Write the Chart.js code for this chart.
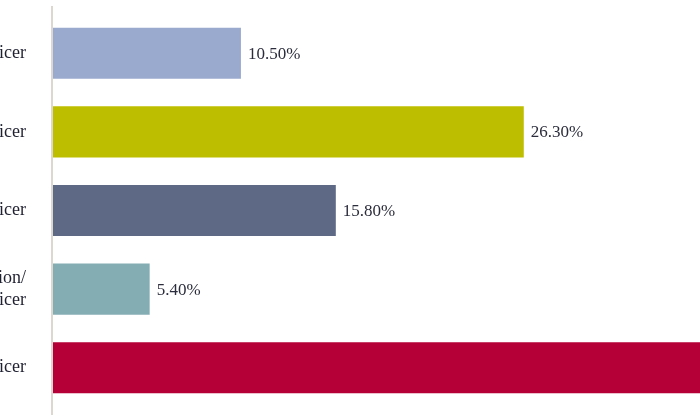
<!DOCTYPE html>
<html>
<head>
<meta charset="utf-8">
<script src="https://cdn.jsdelivr.net/npm/chart.js@4/dist/chart.umd.min.js"></script>
<style>
  html, body { margin: 0; padding: 0; background: #fff; overflow: hidden; }
  body { width: 700px; height: 420px; position: relative; }
  /* the reference is a crop of a wider figure, so the canvas sticks out on both sides */
  #wrap { position: absolute; left: -300px; top: 0; width: 1300px; height: 420px; }
</style>
</head>
<body>
<div id="wrap"><canvas id="chart" width="1300" height="420"></canvas></div>
<script>
// Data
var roles = [
    'Chief Executive Officer',
    'Chief Financial Officer',
    'Chief Operating Officer',
    ['Chief Information/', 'Technology Officer'],
    'Chief Marketing Officer'
];
var shares = [10.5, 26.3, 15.8, 5.4, 42.0];
var barColors = ['#9aaacf', '#bebe00', '#5e6a85', '#84adb3', '#b40036'];

// Draw the value next to the end of each bar
var valueLabels = {
    id: 'valueLabels',
    afterDatasetsDraw: function(chart) {
        var ctx = chart.ctx;
        var meta = chart.getDatasetMeta(0);
        ctx.save();
        ctx.font = '17px "Liberation Serif"';
        ctx.fillStyle = '#2b2d3c';
        ctx.textAlign = 'left';
        ctx.textBaseline = 'middle';
        meta.data.forEach(function(bar, i) {
            ctx.fillText(shares[i].toFixed(2) + '%', bar.x + 7, bar.y + 1);
        });
        ctx.restore();
    }
};

// Light vertical axis line at zero, a bit taller than the bars
var zeroLine = {
    id: 'zeroLine',
    beforeDatasetsDraw: function(chart) {
        var ctx = chart.ctx;
        var x = chart.scales.x.getPixelForValue(0) - 1;
        ctx.save();
        ctx.strokeStyle = '#dcd7cf';
        ctx.lineWidth = 2;
        ctx.beginPath();
        ctx.moveTo(x, chart.chartArea.top - 8);
        ctx.lineTo(x, chart.chartArea.bottom + 8);
        ctx.stroke();
        ctx.restore();
    }
};

var ctx = document.getElementById('chart').getContext('2d');
new Chart(ctx, {
    type: 'bar',
    data: {
        labels: roles,
        datasets: [{
            data: shares,
            backgroundColor: barColors,
            borderWidth: 0,
            categoryPercentage: 1,
            barPercentage: 0.65
        }]
    },
    options: {
        indexAxis: 'y',
        responsive: false,
        animation: false,
        layout: {
            padding: { top: 14, bottom: 13, left: 0, right: 52 }
        },
        scales: {
            x: {
                display: false,
                min: 0,
                max: 50
            },
            y: {
                afterFit: function(scale) {
                    scale.width = 353;
                    // the tick padding should only push labels sideways
                    scale.paddingTop = 0;
                    scale.paddingBottom = 0;
                },
                grid: { display: false, drawTicks: false },
                border: { display: false },
                ticks: {
                    padding: 27,
                    color: '#1f2030',
                    font: { family: '"Liberation Serif"', size: 18 }
                }
            }
        },
        plugins: {
            legend: { display: false },
            tooltip: { enabled: false }
        }
    },
    plugins: [zeroLine, valueLabels]
});
</script>
</body>
</html>
